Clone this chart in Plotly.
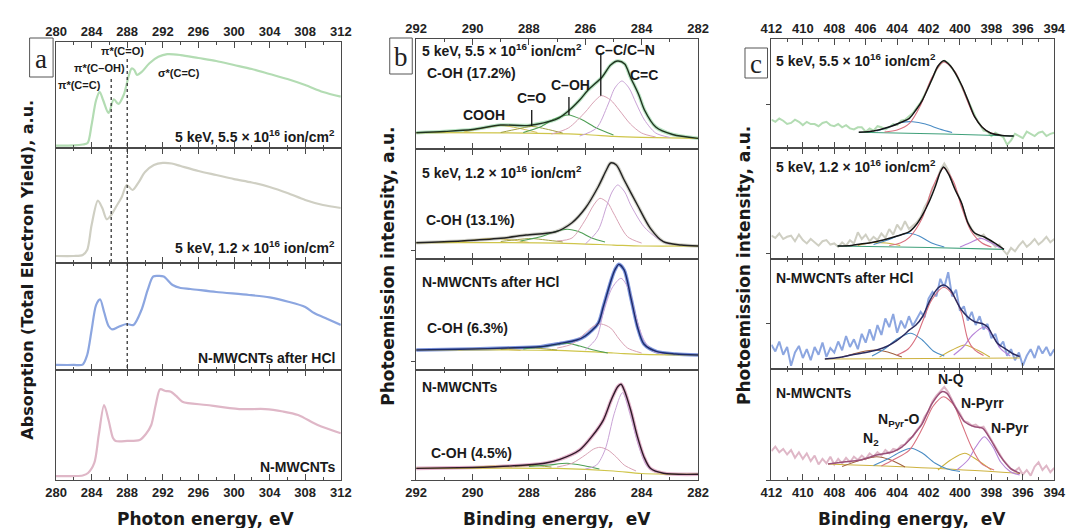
import plotly.graph_objects as go

W, H = 1078, 528

# ---------------- Panel a : NEXAFS (photon energy, eV; intensity a.u.) ----------------
a1_e = [280, 282, 283, 283.55, 284, 284.5, 284.9, 285.3, 285.9, 286.5, 287.0, 287.6, 288.2, 288.5, 288.8, 289.1, 289.6, 290.5, 291.5, 292.5, 294, 296, 298, 300, 302, 304, 306, 308, 310, 312]
a1_y = [0.022, 0.024, 0.033, 0.047, 0.22, 0.45, 0.53, 0.45, 0.33, 0.46, 0.415, 0.50, 0.69, 0.75, 0.735, 0.69, 0.715, 0.80, 0.86, 0.885, 0.877, 0.849, 0.821, 0.783, 0.745, 0.698, 0.651, 0.594, 0.528, 0.484]

a2_e = [280, 282, 283, 283.5, 284, 284.7, 285.2, 285.7, 286.2, 286.8, 287.4, 287.95, 288.6, 289.3, 290, 291, 292, 293, 294, 296, 298, 300, 302, 304, 306, 308, 310, 312]
a2_y = [0.061, 0.061, 0.07, 0.113, 0.33, 0.542, 0.478, 0.38, 0.417, 0.496, 0.577, 0.678, 0.635, 0.704, 0.791, 0.852, 0.87, 0.865, 0.843, 0.80, 0.765, 0.73, 0.70, 0.661, 0.609, 0.548, 0.504, 0.478]

a3_e = [280, 282, 283, 283.5, 284, 284.5, 284.95, 285.4, 285.9, 286.3, 287, 287.9, 288.7, 289.6, 290.3, 290.9, 291.4, 292.1, 293.1, 294, 295.1, 298, 301.7, 304, 306.1, 308, 309, 310.5, 312]
a3_y = [0.047, 0.047, 0.051, 0.14, 0.374, 0.607, 0.661, 0.542, 0.411, 0.38, 0.402, 0.43, 0.421, 0.561, 0.748, 0.872, 0.879, 0.874, 0.794, 0.766, 0.757, 0.729, 0.701, 0.678, 0.638, 0.589, 0.533, 0.477, 0.421]

a4_e = [280, 282, 283, 283.6, 284.3, 284.8, 285.4, 285.9, 286.4, 286.7, 288, 289.4, 290.1, 290.7, 291.2, 291.7, 292.3, 292.9, 293.5, 294.2, 296.9, 300.6, 303.5, 305.5, 307.2, 309.4, 312]
a4_y = [0.036, 0.036, 0.041, 0.064, 0.155, 0.409, 0.682, 0.545, 0.382, 0.355, 0.355, 0.364, 0.418, 0.50, 0.682, 0.825, 0.809, 0.803, 0.764, 0.712, 0.682, 0.645, 0.645, 0.623, 0.591, 0.50, 0.425]

a_marker_e = [286.2, 288.0]

# ---------------- Panel b : C 1s XPS ----------------
# b1: 5 keV, 5.5e16
b1_env_e = [292, 291, 290, 289, 288, 287, 286.6, 286.2, 285.9, 285.4, 285.1, 284.85, 284.6, 284.4, 284.1, 283.9, 283.5, 282.9, 282]
b1_env_y = [0.148, 0.159, 0.177, 0.218, 0.214, 0.273, 0.345, 0.445, 0.536, 0.655, 0.764, 0.80, 0.773, 0.655, 0.491, 0.355, 0.20, 0.132, 0.097]
b1_cc_e = [286.2, 285.6, 285.2, 284.95, 284.7, 284.45, 284.2, 283.9, 283.5, 283.0]
b1_cc_y = [0.118, 0.191, 0.40, 0.555, 0.618, 0.555, 0.418, 0.264, 0.145, 0.105]
b1_ccn_e = [287.2, 286.6, 286.0, 285.7, 285.43, 285.1, 284.8, 284.4, 284.0, 283.5]
b1_ccn_y = [0.136, 0.191, 0.336, 0.427, 0.485, 0.445, 0.355, 0.227, 0.145, 0.109]
b1_coh_e = [288.2, 287.6, 287.1, 286.6, 286.1, 285.6, 285.0]
b1_coh_y = [0.15, 0.20, 0.273, 0.309, 0.264, 0.191, 0.127]
b1_co_e = [289.0, 288.4, 287.9, 287.4, 286.8]
b1_co_y = [0.15, 0.182, 0.205, 0.182, 0.145]
b1_cooh_e = [290.3, 289.6, 289.0, 288.4, 287.7]
b1_cooh_y = [0.155, 0.191, 0.214, 0.191, 0.15]
b1_bg_e = [292, 288, 286, 285, 284, 282]
b1_bg_y = [0.148, 0.145, 0.132, 0.114, 0.105, 0.097]

# b2: 5 keV, 1.2e16
b2_env_e = [292, 290.4, 289, 288.1, 287.05, 286.47, 286.0, 285.54, 285.25, 285.1, 284.9, 284.62, 284.15, 283.69, 283.23, 282.6, 282]
b2_env_y = [0.148, 0.164, 0.188, 0.218, 0.248, 0.33, 0.461, 0.657, 0.809, 0.873, 0.855, 0.718, 0.491, 0.279, 0.157, 0.127, 0.118]
b2_cc_e = [286.0, 285.54, 285.25, 285.05, 284.85, 284.6, 284.39, 283.92, 283.46, 283.0]
b2_cc_y = [0.136, 0.264, 0.475, 0.609, 0.673, 0.609, 0.491, 0.294, 0.191, 0.132]
b2_ccn_e = [287.0, 286.47, 286.0, 285.7, 285.48, 285.2, 285.0, 284.5, 284.0]
b2_ccn_y = [0.164, 0.191, 0.355, 0.491, 0.552, 0.509, 0.418, 0.203, 0.145]
b2_coh_e = [288.3, 287.63, 287.1, 286.64, 286.2, 285.77, 285.3]
b2_coh_y = [0.164, 0.20, 0.245, 0.27, 0.245, 0.191, 0.155]
b2_co_e = [289.0, 288.4, 287.9, 287.4, 286.8]
b2_co_y = [0.159, 0.177, 0.186, 0.173, 0.155]
b2_cooh_e = [290.4, 289.8, 289.2, 288.6, 288.0]
b2_cooh_y = [0.155, 0.177, 0.186, 0.173, 0.15]
b2_bg_e = [292, 287, 285, 284, 282]
b2_bg_y = [0.148, 0.145, 0.127, 0.118, 0.118]

# b3: after HCl
b3_env_e = [292, 290, 288.8, 287.6, 286.9, 286.3, 286.0, 285.54, 285.36, 285.08, 284.95, 284.81, 284.62, 284.39, 284.15, 283.92, 283.46, 282.8, 282]
b3_env_y = [0.18, 0.189, 0.198, 0.21, 0.239, 0.27, 0.306, 0.421, 0.57, 0.811, 0.901, 0.952, 0.901, 0.66, 0.39, 0.234, 0.165, 0.144, 0.135]
b3_cc_e = [286.0, 285.6, 285.36, 285.05, 284.73, 284.45, 284.27, 283.92, 283.6, 283.2]
b3_cc_y = [0.18, 0.288, 0.514, 0.739, 0.826, 0.721, 0.541, 0.27, 0.171, 0.144]
b3_ccn_e = [287.0, 286.47, 286.0, 285.7, 285.43, 285.1, 284.8, 284.5, 284.0]
b3_ccn_y = [0.198, 0.234, 0.333, 0.396, 0.414, 0.378, 0.279, 0.198, 0.153]
b3_coh_e = [288.2, 287.6, 287.0, 286.64, 286.2, 285.7, 285.2]
b3_coh_y = [0.189, 0.207, 0.23, 0.241, 0.216, 0.18, 0.153]
b3_co_e = [289.0, 288.3, 287.6, 287.0]
b3_co_y = [0.185, 0.203, 0.194, 0.18]
b3_cooh_e = [290.5, 289.7, 289.0, 288.3]
b3_cooh_y = [0.18, 0.194, 0.189, 0.176]
b3_bg_e = [292, 287, 285, 284, 282]
b3_bg_y = [0.18, 0.176, 0.153, 0.14, 0.135]

# b4: N-MWCNTs
b4_env_e = [292, 290, 289.2, 288.1, 287.4, 286.9, 286.2, 285.77, 285.36, 285.08, 284.85, 284.73, 284.62, 284.39, 284.15, 283.92, 283.69, 283.23, 282]
b4_env_y = [0.106, 0.114, 0.121, 0.136, 0.155, 0.188, 0.273, 0.394, 0.545, 0.727, 0.848, 0.87, 0.818, 0.636, 0.394, 0.212, 0.106, 0.061, 0.052]
b4_cc_e = [286.0, 285.6, 285.3, 284.97, 284.68, 284.39, 284.1, 283.8, 283.4]
b4_cc_y = [0.10, 0.136, 0.273, 0.606, 0.794, 0.576, 0.303, 0.121, 0.068]
b4_ccn_e = [287.0, 286.47, 286.0, 285.7, 285.48, 285.2, 284.9, 284.62, 284.2]
b4_ccn_y = [0.118, 0.152, 0.227, 0.282, 0.297, 0.273, 0.209, 0.136, 0.082]
b4_coh_e = [288.0, 287.3, 286.64, 286.0, 285.5]
b4_coh_y = [0.123, 0.136, 0.152, 0.127, 0.10]
b4_co_e = [288.5, 287.9, 287.2]
b4_co_y = [0.123, 0.132, 0.118]
b4_cooh_e = [290.0, 289.3, 288.6]
b4_cooh_y = [0.114, 0.127, 0.118]
b4_bg_e = [292, 287, 285, 284, 282]
b4_bg_y = [0.106, 0.105, 0.082, 0.059, 0.052]

b_marker_e = [285.45, 286.58, 287.9]
b_marker_top = [0.873, 0.473, 0.355]
b_marker_bot = [0.485, 0.309, 0.209]

# ---------------- Panel c : N 1s XPS ----------------
c_raw_e = [412.0 - 0.25 * i for i in range(73)]
c1_raw = [0.26, 0.24, 0.27, 0.25, 0.22, 0.23, 0.26, 0.24, 0.21, 0.24, 0.22, 0.22, 0.20, 0.23, 0.24, 0.21, 0.20, 0.22, 0.19, 0.21,
          0.18, 0.17, 0.19, 0.19, 0.15, 0.18, 0.16, 0.20, 0.19, 0.17, 0.19, 0.22, 0.21, 0.25, 0.26, 0.29, 0.32, 0.37, 0.42, 0.49,
          0.57, 0.64, 0.72, 0.77, 0.80, 0.78, 0.73, 0.68, 0.60, 0.52, 0.44, 0.35, 0.28, 0.22, 0.16, 0.15, 0.11, 0.14, 0.12, 0.10,
          0.03, 0.07, 0.13, 0.11, 0.09, 0.15, 0.13, 0.11, 0.14, 0.15, 0.11, 0.13, 0.14]
c2_raw = [0.21, 0.19, 0.23, 0.18, 0.20, 0.21, 0.16, 0.22, 0.17, 0.14, 0.18, 0.15, 0.12, 0.16, 0.17, 0.13, 0.14, 0.11, 0.15, 0.12,
          0.17, 0.14, 0.24, 0.18, 0.22, 0.16, 0.20, 0.17, 0.23, 0.19, 0.27, 0.22, 0.31, 0.26, 0.34, 0.27, 0.30, 0.33, 0.38, 0.47,
          0.53, 0.64, 0.70, 0.80, 0.86, 0.80, 0.70, 0.62, 0.54, 0.43, 0.33, 0.27, 0.22, 0.20, 0.22, 0.17, 0.15, 0.11, 0.13, 0.08,
          0.04, 0.10, 0.07, 0.12, 0.16, 0.11, 0.14, 0.18, 0.13, 0.16, 0.20, 0.15, 0.18]
c3_raw = [0.22, 0.16, 0.25, 0.13, 0.20, 0.03, 0.15, 0.21, 0.10, 0.18, 0.08, 0.20, 0.13, 0.24, 0.11, 0.19, 0.15, 0.25, 0.17, 0.30,
          0.20, 0.27, 0.18, 0.32, 0.24, 0.36, 0.26, 0.40, 0.31, 0.46, 0.38, 0.50, 0.33, 0.44, 0.37, 0.48, 0.39, 0.45, 0.52, 0.47,
          0.64, 0.70, 0.66, 0.82, 0.74, 0.88, 0.66, 0.72, 0.53, 0.57, 0.44, 0.52, 0.40, 0.48, 0.36, 0.41, 0.28, 0.32, 0.20, 0.25,
          0.12, 0.18, 0.08, 0.15, 0.03, 0.12, 0.18, 0.10, 0.21, 0.14, 0.20, 0.12, 0.18]
c4_raw = [0.26, 0.30, 0.25, 0.28, 0.23, 0.27, 0.20, 0.25, 0.19, 0.24, 0.17, 0.22, 0.14, 0.19, 0.15, 0.21, 0.14, 0.19, 0.15, 0.20,
          0.16, 0.21, 0.18, 0.22, 0.19, 0.24, 0.21, 0.25, 0.22, 0.27, 0.24, 0.28, 0.27, 0.31, 0.32, 0.37, 0.39, 0.45, 0.49, 0.57,
          0.62, 0.71, 0.76, 0.80, 0.84, 0.79, 0.72, 0.65, 0.60, 0.53, 0.52, 0.49, 0.50, 0.47, 0.48, 0.42, 0.37, 0.30, 0.24, 0.18,
          0.14, 0.10, 0.08, 0.11, 0.05, 0.09, 0.04, 0.12, 0.16, 0.09, 0.13, 0.07, 0.11]

c1_env_e = [406.44, 405.5, 404.47, 403.7, 403.22, 402.8, 402.39, 401.8, 401.4, 401.04, 400.6, 399.9, 399.5, 399.07, 398.6, 398.03, 397.3, 396.58]
c1_env_y = [0.144, 0.156, 0.195, 0.239, 0.272, 0.349, 0.44, 0.624, 0.752, 0.801, 0.752, 0.578, 0.44, 0.287, 0.193, 0.135, 0.115, 0.11]
c1_nq_e = [404.8, 404.0, 403.2, 402.5, 401.8, 401.04, 400.3, 399.9, 399.07, 398.3, 397.5]
c1_nq_y = [0.147, 0.165, 0.229, 0.394, 0.642, 0.789, 0.697, 0.569, 0.284, 0.156, 0.119]
c1_npo_e = [405.3, 404.5, 403.7, 403.01, 402.2, 401.3, 400.5]
c1_npo_y = [0.156, 0.193, 0.234, 0.241, 0.22, 0.174, 0.142]
c1_bg_e = [406.44, 401.0, 396.58]
c1_bg_y = [0.144, 0.128, 0.11]

c2_env_e = [407.79, 406.9, 406.33, 405.6, 404.88, 404.0, 403.22, 402.8, 402.39, 401.97, 401.56, 401.25, 401.04, 400.7, 400.3, 399.9, 399.49, 399.07, 398.45, 397.83, 397.2]
c2_env_y = [0.117, 0.122, 0.135, 0.149, 0.171, 0.207, 0.246, 0.306, 0.396, 0.514, 0.658, 0.784, 0.829, 0.757, 0.622, 0.505, 0.324, 0.234, 0.198, 0.147, 0.087]
c2_nq_e = [404.5, 403.8, 403.2, 402.4, 401.8, 401.04, 400.4, 399.9, 399.3, 398.6, 398.0]
c2_nq_y = [0.122, 0.144, 0.198, 0.369, 0.622, 0.82, 0.694, 0.468, 0.252, 0.144, 0.108]
c2_npo_e = [405.5, 404.6, 403.8, 403.22, 402.6, 401.8, 401.0]
c2_npo_y = [0.131, 0.171, 0.216, 0.232, 0.207, 0.144, 0.108]
c2_npyr_e = [400.0, 399.4, 398.65, 398.0, 397.4]
c2_npyr_y = [0.108, 0.144, 0.186, 0.144, 0.095]
c2_n2_e = [406.5, 405.6, 404.7, 403.8]
c2_n2_y = [0.122, 0.149, 0.144, 0.122]
c2_bg_e = [407.79, 402.0, 397.2]
c2_bg_y = [0.117, 0.104, 0.087]

c3_env_e = [408.6, 407.7, 406.9, 406.0, 405.3, 404.6, 404.05, 403.5, 403.22, 402.8, 402.39, 401.9, 401.4, 401.04, 400.6, 400.2, 399.9, 399.5, 399.07, 398.6, 398.24, 397.9, 397.62, 397.0, 396.6, 396.2]
c3_env_y = [0.091, 0.105, 0.127, 0.15, 0.173, 0.209, 0.255, 0.318, 0.355, 0.40, 0.475, 0.627, 0.736, 0.764, 0.718, 0.609, 0.536, 0.473, 0.43, 0.414, 0.382, 0.30, 0.234, 0.173, 0.136, 0.114]
c3_nq_e = [404.0, 403.3, 402.8, 402.39, 401.8, 401.04, 400.4, 399.9, 399.49, 399.07, 398.5]
c3_nq_y = [0.127, 0.182, 0.282, 0.427, 0.627, 0.743, 0.664, 0.509, 0.264, 0.173, 0.123]
c3_npo_e = [405.6, 404.8, 404.0, 403.12, 402.4, 401.7, 401.0]
c3_npo_y = [0.118, 0.182, 0.273, 0.325, 0.264, 0.164, 0.118]
c3_npyr_e = [400.4, 399.8, 399.2, 398.45, 397.9, 397.4, 396.8]
c3_npyr_y = [0.127, 0.20, 0.309, 0.382, 0.30, 0.182, 0.118]
c3_npyrr_e = [401.3, 400.5, 399.7, 398.9, 398.1]
c3_npyrr_y = [0.109, 0.173, 0.218, 0.173, 0.109]
c3_n2_e = [407.5, 406.3, 405.4, 404.6, 403.7]
c3_n2_y = [0.109, 0.155, 0.173, 0.155, 0.109]
c3_bg_e = [408.6, 402.0, 396.2]
c3_bg_y = [0.091, 0.095, 0.10]

c4_env_e = [408.4, 407.4, 406.33, 405.3, 404.26, 403.7, 403.22, 402.8, 402.39, 401.77, 401.15, 400.83, 400.31, 399.7, 399.07, 398.55, 398.03, 397.41, 396.79, 396.17]
c4_env_y = [0.144, 0.162, 0.18, 0.225, 0.255, 0.297, 0.36, 0.432, 0.511, 0.691, 0.795, 0.781, 0.66, 0.525, 0.48, 0.466, 0.36, 0.21, 0.105, 0.06]
c4_nq_e = [405.0, 404.26, 403.22, 402.39, 401.7, 401.04, 400.4, 399.9, 399.28, 398.65, 397.83]
c4_nq_y = [0.126, 0.18, 0.27, 0.466, 0.667, 0.75, 0.676, 0.511, 0.30, 0.15, 0.09]
c4_npo_e = [405.5, 404.6, 403.8, 403.12, 402.4, 401.6, 400.8, 400.0]
c4_npo_y = [0.131, 0.189, 0.252, 0.286, 0.243, 0.153, 0.099, 0.077]
c4_npyr_e = [400.2, 399.49, 399.0, 398.45, 397.9, 397.41, 396.79, 396.2]
c4_npyr_y = [0.09, 0.18, 0.297, 0.39, 0.297, 0.162, 0.075, 0.045]
c4_npyrr_e = [401.4, 400.6, 399.7, 398.9, 398.0]
c4_npyrr_y = [0.09, 0.18, 0.241, 0.18, 0.09]
c4_n2_e = [407.5, 406.3, 405.3, 404.4, 403.5]
c4_n2_y = [0.122, 0.18, 0.21, 0.18, 0.117]
c4_bg_e = [408.4, 402.0, 396.17]
c4_bg_y = [0.144, 0.108, 0.06]

# ---------------- Text ----------------
sample_labels = ["5 keV, 5.5 × 10<sup>16</sup> ion/cm<sup>2</sup>",
                 "5 keV, 1.2 × 10<sup>16</sup> ion/cm<sup>2</sup>",
                 "N-MWCNTs after HCl", "N-MWCNTs"]
coh_labels = ["C-OH (17.2%)", "C-OH (13.1%)", "C-OH (6.3%)", "C-OH (4.5%)"]

# ---------------- Colours ----------------
col_raw = ["#b3dcb3", "#cfcfc3", "#8ca6e0", "#dfb7c7"]
col_b_raw = ["#b9e3c3", "#d3d3cb", "#7d95dc", "#e3b3cb"]
col_b_env = ["#1f331f", "#222222", "#1c2b6b", "#2e1a28"]
col_c_env = ["#151515", "#151515", "#2b2b5e", "#9a5078"]

FONT = "Arial, Liberation Sans, sans-serif"
TFONT = "DejaVu Sans, Arial, sans-serif"
fig = go.Figure()


def xd(p):
    return p / W


def yd(p):
    return 1 - p / H


panels = [
    dict(x=(46, 337), edges=[42, 148, 263, 370, 480], rng=[280, 312], dtick=4, minor=2, tick0=280),
    dict(x=(414, 702), edges=[39, 149, 259, 370, 480], rng=[292, 282], dtick=2, minor=1, tick0=282),
    dict(x=(777, 1066), edges=[39, 148, 259, 369, 480], rng=[412, 394], dtick=2, minor=1, tick0=394),
]
ytick_vals = [[], [[], [0.073], [0.081], [0.0]], [[0.4], [0.051], [0.415], [0.0]]]

layout_axes = {}
for p_i, p in enumerate(panels):
    for s in range(4):
        n = p_i * 4 + s + 1
        top, bot = p["edges"][s], p["edges"][s + 1]
        xa = dict(domain=[xd(p["x"][0]), xd(p["x"][1])], range=p["rng"], anchor="y%d" % n,
                  showline=True, mirror="ticks", linecolor="#4a4a4a", linewidth=1,
                  ticks="inside", ticklen=6, tickcolor="#4a4a4a", dtick=p["dtick"], tick0=p["tick0"],
                  minor=dict(ticks="inside", ticklen=3, dtick=p["minor"], tickcolor="#4a4a4a"),
                  showgrid=False, zeroline=False,
                  tickfont=dict(family=FONT, size=13, color="#222", weight="bold"))
        if s == 0:
            xa.update(side="top", showticklabels=True)
        elif s == 3:
            xa.update(side="bottom", showticklabels=True)
        else:
            xa.update(showticklabels=False)
        ya = dict(domain=[yd(bot), yd(top)], range=[0, 1], anchor="x%d" % n,
                  showline=True, mirror=True, linecolor="#4a4a4a", linewidth=1,
                  showticklabels=False, showgrid=False, zeroline=False)
        if p_i > 0:
            ya.update(ticks="outside", ticklen=4, tickcolor="#4a4a4a", tickvals=ytick_vals[p_i][s])
        else:
            ya.update(ticks="")
        layout_axes["xaxis%d" % n if n > 1 else "xaxis"] = xa
        layout_axes["yaxis%d" % n if n > 1 else "yaxis"] = ya


def line(n, x, y, color, width, spline=True):
    fig.add_trace(go.Scatter(x=x, y=y, mode="lines", xaxis="x%d" % n, yaxis="y%d" % n,
                             line=dict(color=color, width=width, shape="spline" if spline else "linear",
                                       smoothing=0.8),
                             hoverinfo="skip", showlegend=False))


# panel a
for s, (e, y) in enumerate([(a1_e, a1_y), (a2_e, a2_y), (a3_e, a3_y), (a4_e, a4_y)]):
    line(s + 1, e, y, col_raw[s], 2.2)

# panel b
C_CC, C_CCN, C_COH, C_CO, C_COOH, C_BG = "#c9a3d6", "#d9a3b5", "#4f9f55", "#9fa044", "#d2bd5a", "#cfc54a"
b_sets = [
    (b1_env_e, b1_env_y, b1_cc_e, b1_cc_y, b1_ccn_e, b1_ccn_y, b1_coh_e, b1_coh_y, b1_co_e, b1_co_y, b1_cooh_e, b1_cooh_y, b1_bg_e, b1_bg_y),
    (b2_env_e, b2_env_y, b2_cc_e, b2_cc_y, b2_ccn_e, b2_ccn_y, b2_coh_e, b2_coh_y, b2_co_e, b2_co_y, b2_cooh_e, b2_cooh_y, b2_bg_e, b2_bg_y),
    (b3_env_e, b3_env_y, b3_cc_e, b3_cc_y, b3_ccn_e, b3_ccn_y, b3_coh_e, b3_coh_y, b3_co_e, b3_co_y, b3_cooh_e, b3_cooh_y, b3_bg_e, b3_bg_y),
    (b4_env_e, b4_env_y, b4_cc_e, b4_cc_y, b4_ccn_e, b4_ccn_y, b4_coh_e, b4_coh_y, b4_co_e, b4_co_y, b4_cooh_e, b4_cooh_y, b4_bg_e, b4_bg_y),
]
for s, d in enumerate(b_sets):
    n = 5 + s
    line(n, d[0], d[1], col_b_raw[s], 3.6)
    line(n, d[12], d[13], C_BG, 1.2)
    line(n, d[10], d[11], C_COOH, 1)
    line(n, d[8], d[9], C_CO, 1)
    line(n, d[6], d[7], C_COH, 1.1)
    line(n, d[4], d[5], C_CCN, 1)
    line(n, d[2], d[3], C_CC, 1)
    line(n, d[0], d[1], col_b_env[s], 1.4)

# panel c
N_Q, N_PO, N_PY, N_PR, N_2, N_BG = "#d9707f", "#4a8cc4", "#b784d8", "#cdb23f", "#a0603e", "#3fa07a"
c_raws = [c1_raw, c2_raw, c3_raw, c4_raw]
c_raw_w = [2.0, 2.0, 2.0, 2.0]
c_comp = [
    [(c1_bg_e, c1_bg_y, N_BG), (c1_npo_e, c1_npo_y, N_PO), (c1_nq_e, c1_nq_y, N_Q)],
    [(c2_bg_e, c2_bg_y, N_BG), (c2_n2_e, c2_n2_y, N_PR), (c2_npyr_e, c2_npyr_y, N_PY), (c2_npo_e, c2_npo_y, N_PO), (c2_nq_e, c2_nq_y, N_Q)],
    [(c3_bg_e, c3_bg_y, N_PR), (c3_n2_e, c3_n2_y, N_2), (c3_npyrr_e, c3_npyrr_y, N_PR), (c3_npyr_e, c3_npyr_y, N_PY), (c3_npo_e, c3_npo_y, N_PO), (c3_nq_e, c3_nq_y, N_Q)],
    [(c4_bg_e, c4_bg_y, N_PR), (c4_n2_e, c4_n2_y, N_2), (c4_npyrr_e, c4_npyrr_y, N_PR), (c4_npyr_e, c4_npyr_y, N_PY), (c4_npo_e, c4_npo_y, N_PO), (c4_nq_e, c4_nq_y, N_Q)],
]
c_envs = [(c1_env_e, c1_env_y), (c2_env_e, c2_env_y), (c3_env_e, c3_env_y), (c4_env_e, c4_env_y)]
for s in range(4):
    n = 9 + s
    line(n, c_raw_e, c_raws[s], col_raw[s], c_raw_w[s], spline=False)
    for e, y, col in c_comp[s]:
        line(n, e, y, col, 1.1)
    line(n, c_envs[s][0], c_envs[s][1], col_c_env[s], 1.5)

# ---------------- Annotations ----------------
ann = []


def txt(x, y, t, size=13, anchor="left", bold=True, fam=FONT, color="#1a1a1a"):
    ann.append(dict(x=xd(x), y=yd(y), xref="paper", yref="paper", text=t, showarrow=False,
                    xanchor=anchor, yanchor="middle",
                    font=dict(family=fam, size=size, color=color, weight="bold" if bold else "normal")))


# panel a sample labels (right aligned)
for s, ypos in enumerate([136, 247, 358, 467]):
    txt(333, ypos, sample_labels[s], 14, "right")
txt(70, 85, "π*(C=C)", 11, "center")
txt(90, 68, "π*(C–OH)", 11, "center")
txt(114, 51, "π*(C=O)", 11, "center")
txt(172, 73, "σ*(C=C)", 11, "center")

# panel b
for s, ypos in enumerate([50, 172, 282, 387]):
    txt(418, ypos, sample_labels[s], 14, "left")
for s, (xp, ypos) in enumerate([(423, 73), (422, 220), (423, 328), (427, 453)]):
    txt(xp, ypos, coh_labels[s], 14, "left")
txt(627, 50, "C–C/C–N", 14, "center")
txt(647, 75, "C=C", 14, "center")
txt(572, 85, "C–OH", 14, "center")
txt(532, 98, "C=O", 14, "center")
txt(483, 115, "COOH", 14, "center")

# panel c
for s, ypos in enumerate([60, 166, 278, 393]):
    txt(780, ypos, sample_labels[s], 14, "left")
txt(960, 379, "N-Q", 14, "center")
txt(993, 403, "N-Pyrr", 14, "center")
txt(907, 420, "N<sub>Pyr</sub>-O", 14, "center")
txt(1021, 428, "N-Pyr", 14, "center")
txt(879, 439, "N<sub>2</sub>", 14, "center")

# axis titles
txt(199, 519, "Photon energy, eV", 17, "center", fam=TFONT)
txt(558, 519, "Binding energy,  eV", 17, "center", fam=TFONT)
txt(921, 519, "Binding energy,  eV", 17, "center", fam=TFONT)
for xp, yp, t, sz in [(16, 270, "Absorption (Total Electron Yield), a.u.", 16),
                      (385, 266, "Photoemission intensity, a.u.", 17),
                      (749, 266, "Photoemission intensity, a.u.", 17)]:
    ann.append(dict(x=xd(xp), y=yd(yp), xref="paper", yref="paper", text=t, showarrow=False,
                    textangle=-90, xanchor="center", yanchor="middle",
                    font=dict(family=TFONT, size=sz, color="#1a1a1a", weight="bold")))

# panel letters
shapes = []
for (x0, y0, x1, y1, letter) in [(19, 38, 43, 77, "a"), (387, 38, 410, 74, "b"), (750, 48, 773, 78, "c")]:
    shapes.append(dict(type="rect", xref="paper", yref="paper", x0=xd(x0), x1=xd(x1), y0=yd(y1), y1=yd(y0),
                       line=dict(color="#555", width=1), fillcolor="white", layer="above"))
    ann.append(dict(x=xd((x0 + x1) / 2), y=yd((y0 + y1) / 2 + 1), xref="paper", yref="paper", text=letter,
                    showarrow=False, xanchor="center", yanchor="middle",
                    font=dict(family="Liberation Serif, Times New Roman, serif", size=27, color="#222")))

# dotted markers in panel a
for e, ytop in zip(a_marker_e, [77, 56]):
    ybot = 262 if e < 287 else 368
    shapes.append(dict(type="line", xref="x", yref="paper", x0=e, x1=e, y0=yd(ybot), y1=yd(ytop),
                       line=dict(color="#333", width=1.3, dash="dot")))
# leader lines in panel b (top)
for e, t, b in zip(b_marker_e, b_marker_top, b_marker_bot):
    shapes.append(dict(type="line", xref="x5", yref="y5", x0=e, x1=e, y0=b, y1=t,
                       line=dict(color="#111", width=1.3)))

fig.update_layout(width=W, height=H, margin=dict(l=0, r=0, t=0, b=0),
                  plot_bgcolor="white", paper_bgcolor="white", showlegend=False,
                  annotations=ann, shapes=shapes, **layout_axes)

fig.write_html("out.html")
